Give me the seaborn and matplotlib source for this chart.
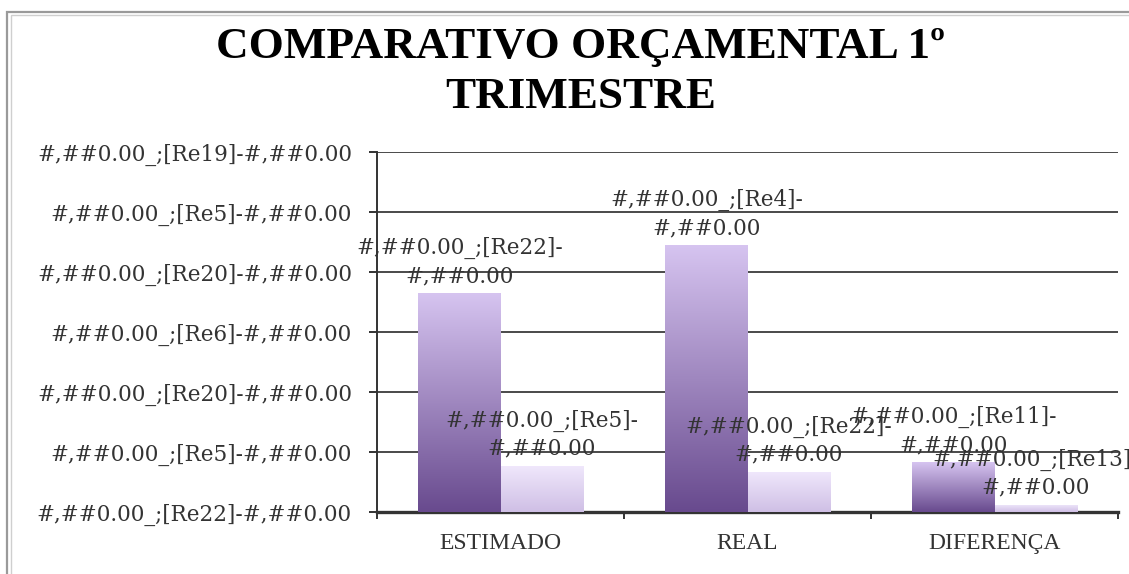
import matplotlib
matplotlib.use('Agg')
import matplotlib.pyplot as plt
from matplotlib.colors import LinearSegmentedColormap
from matplotlib.patches import Rectangle
import seaborn as sns
import pandas as pd
import numpy as np

# dados (1 unidade = 1 linha de grade)
categorias = ['ESTIMADO', 'REAL', 'DIFERENÇA']
serie1 = [3.65, 4.45, 0.83]
serie2 = [0.77, 0.67, 0.12]
rotulos1 = ['#,##0.00_;[Re22]-', '#,##0.00_;[Re4]-', '#,##0.00_;[Re11]-']
rotulos2 = ['#,##0.00_;[Re5]-', '#,##0.00_;[Re22]-', '#,##0.00_;[Re13]-']
ticks_y = ['#,##0.00_;[Re22]-#,##0.00', '#,##0.00_;[Re5]-#,##0.00',
           '#,##0.00_;[Re20]-#,##0.00', '#,##0.00_;[Re6]-#,##0.00',
           '#,##0.00_;[Re20]-#,##0.00', '#,##0.00_;[Re5]-#,##0.00',
           '#,##0.00_;[Re19]-#,##0.00']
titulo = 'COMPARATIVO ORÇAMENTAL 1º\nTRIMESTRE'

df = pd.DataFrame({
    'Categoria': categorias * 2,
    'Valor': serie1 + serie2,
    'Serie': ['Série 1'] * 3 + ['Série 2'] * 3,
})

sns.set_style('white')
plt.rcParams['font.family'] = ['DejaVu Serif']

fig = plt.figure(figsize=(11.29, 5.74), dpi=100)
ax = fig.add_axes([377 / 1129, 1 - 512 / 574, (1118 - 377) / 1129, 360 / 574])

sns.barplot(data=df, x='Categoria', y='Valor', hue='Serie', order=categorias,
            palette=['#9a80c0', '#ddd0f0'], width=0.665, gap=0, ax=ax,
            legend=False, zorder=3, linewidth=0)

ax.set_xlim(-0.5, 2.5)
ax.set_ylim(0, 6)

# gradiente vertical em cada barra
cores = [('#684a8e', '#d6c4f0'), ('#cfbfe5', '#f0e8fc')]
grad = np.linspace(0, 1, 256).reshape(-1, 1)
for cont, (c0, c1) in zip(ax.containers, cores):
    cmap = LinearSegmentedColormap.from_list('g', [c0, c1])
    for p in cont.patches:
        x0, y0 = p.get_x(), p.get_y()
        w, h = p.get_width(), p.get_height()
        im = ax.imshow(grad, cmap=cmap, origin='lower', aspect='auto',
                       extent=[x0, x0 + w, y0, y0 + h], zorder=3.1)
        im.set_clip_path(p)
ax.set_xlim(-0.5, 2.5)
ax.set_ylim(0, 6)

# grade horizontal
for yv in range(1, 7):
    ax.axhline(yv, color='#4a4a4a', lw=1.4, zorder=1)

# rótulos de dados (sobrepõem-se como no original)
for cont, vals, rots in zip(ax.containers, [serie1, serie2], [rotulos1, rotulos2]):
    for p, v, r in zip(cont.patches, vals, rots):
        ax.text(p.get_x() + p.get_width() / 2, v + 0.1, r + '\n#,##0.00',
                ha='center', va='bottom', multialignment='center',
                fontsize=15.5, color='#333333', zorder=5, linespacing=1.35,
                clip_on=False)

for s in ['top', 'right']:
    ax.spines[s].set_visible(False)
ax.spines['left'].set_color('#333333')
ax.spines['left'].set_linewidth(1.4)
ax.spines['bottom'].set_color('#333333')
ax.spines['bottom'].set_linewidth(2.4)

ax.set_yticks(range(7))
ax.set_yticklabels(ticks_y)
ax.tick_params(axis='y', length=6, width=1.4, color='#333333', pad=12,
               labelsize=15.5, labelcolor='#333333', direction='out', left=True)
ax.set_xticks(range(3))
ax.set_xticklabels(categorias, family='Liberation Serif', fontsize=17)
ax.set_xticks([-0.5, 0.5, 1.5, 2.5], minor=True)
ax.tick_params(axis='x', which='major', length=0, pad=15, labelcolor='#333333')
ax.tick_params(axis='x', which='minor', length=5, width=1.4, color='#333333',
               direction='out', bottom=True)
ax.set_xlabel('')
ax.set_ylabel('')

fig.text(0.514, 1 - 72 / 574, titulo, ha='center', va='center', fontsize=32.5,
         fontweight='bold', linespacing=1.3, color='black',
         family='Liberation Serif')

# moldura do gráfico
fig.add_artist(Rectangle((7 / 1129, -0.1), 1.2, 1 - 12 / 574 + 0.1,
                         transform=fig.transFigure, fill=False,
                         edgecolor='#9a9a9a', lw=1.6))
fig.add_artist(Rectangle((11 / 1129, -0.1), 1.2, 1 - 15 / 574 + 0.1,
                         transform=fig.transFigure, fill=False,
                         edgecolor='#cfcfcf', lw=1.0))

fig.savefig('out.png', dpi=100)
